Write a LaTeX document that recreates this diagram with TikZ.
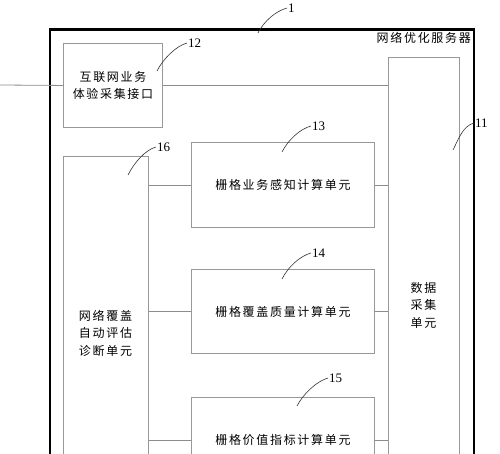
\documentclass[tikz,border=0pt]{standalone}
\usepackage{fontspec}
\setmainfont{Liberation Serif}
\newfontfamily\cjk[LetterSpace=14]{Noto Sans CJK SC}
\usepackage{tikz}
\usetikzlibrary{positioning,calc}

\tikzset{unit/.style={draw=black!40,line width=0.9pt,anchor=north west,inner sep=0pt,
    font=\cjk\fontsize{12}{17}\selectfont,align=center},
  wire/.style={black!45,line width=0.8pt},
  tag/.style={font=\fontsize{13}{13}\selectfont,inner sep=1pt,anchor=west},
  lead/.style={black!80,line width=0.6pt},
  txt/.style={font=\cjk\fontsize{12}{17.5}\selectfont,align=center,inner sep=0pt}}

\begin{document}
\begin{tikzpicture}[x=1pt,y=-1pt]
  \clip (0,0) rectangle (500,454);

  \node[draw=black,line width=2.6pt,anchor=north west,inner sep=0pt,
        minimum width=424pt,minimum height=480pt] (srv) at (48.5,28.5) {};
  \node[txt,anchor=east] (srvname) at (471,38) {网络优化服务器};

  \node[unit,minimum width=99pt,minimum height=84pt] (b12) at (63,43) {互联网业务\\体验采集接口};
  \node[unit,minimum width=71pt,minimum height=500pt] (b11) at (388,57) {};
  \node[unit,minimum width=85pt,minimum height=450pt] (b16) at (63,156) {};
  \node[unit,minimum width=183pt,minimum height=85pt] (b13) at (191,142) {栅格业务感知计算单元};
  \node[unit,minimum width=183pt,minimum height=84pt] (b14) at (191,269) {栅格覆盖质量计算单元};
  \node[unit,minimum width=183pt,minimum height=85pt] (b15) at (191,397) {栅格价值指标计算单元};

  \node[txt] (t16) at (105.5,333) {网络覆盖\\自动评估\\诊断单元};
  \node[txt] (t11) at (423.5,305) {数据\\采集\\单元};

  \coordinate (in) at (0,85);
  \draw[wire] (in) -- (b12.west);
  \draw[wire] (b12.east) -- (b12.east -| b11.west);
  \foreach \b in {b13,b14,b15}
  {
    \draw[wire] (b16.east |- \b.west) -- (\b.west);
    \draw[wire] (\b.east) -- (b11.west |- \b.east);
  }

  \node[tag] (n1) at (287,8) {1};
  \node[tag] (n12) at (187,43) {12};
  \node[tag] (n11) at (474,123) {11};
  \node[tag] (n13) at (311,126) {13};
  \node[tag] (n16) at (156,147) {16};
  \node[tag] (n14) at (311,253) {14};
  \node[tag] (n15) at (328,378) {15};

  \foreach \n/\x/\y in {1/258/33,12/157/71,11/453/150,13/282/152,16/128/175,14/282/279,15/297/406}
  {
    \draw[lead] (\x,\y) .. controls +(6,-12) and +(-11,3) .. (n\n.west);
  }
\end{tikzpicture}
\end{document}
